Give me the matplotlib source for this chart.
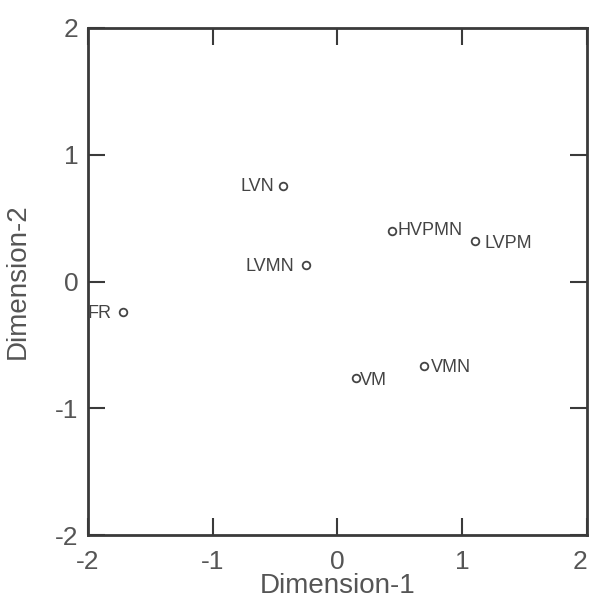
import matplotlib
matplotlib.use("Agg")
import matplotlib.pyplot as plt

plt.rcParams['font.family'] = ['Liberation Sans', 'DejaVu Sans']

# MDS configuration
labels = ["LVN", "HVPMN", "LVPM", "LVMN", "VM", "VMN", "FR"]
dim1 = [-0.44, 0.44, 1.10, -0.25, 0.15, 0.69, -1.72]
dim2 = [0.75, 0.40, 0.32, 0.13, -0.76, -0.67, -0.24]

ticks = [-2, -1, 0, 1, 2]

# label placement next to each marker (offset in points, alignment)
label_pos = {
    "LVN":   ((-6, 0), "right"),
    "HVPMN": ((4, 0), "left"),
    "LVPM":  ((7, -2), "left"),
    "LVMN":  ((-9, -1), "right"),
    "VM":    ((3, -2), "left"),
    "VMN":   ((5, -1), "left"),
    "FR":    ((-8, -1), "right"),
}

ink = "#3a3a3a"
txt = "#555555"

fig = plt.figure(figsize=(5.9, 6.08), dpi=100)
ax = fig.add_axes([0.149, 0.12, 0.846, 0.834])

ax.plot(dim1, dim2, linestyle="none", marker="o", markersize=5.5,
        markerfacecolor="white", markeredgecolor="#444444", markeredgewidth=1.3)

for name, x, y in zip(labels, dim1, dim2):
    off, ha = label_pos[name]
    ax.annotate(name, (x, y), xytext=off, textcoords="offset points",
                ha=ha, va="center", fontsize=13, color="#444444")

ax.set_xlim(-2, 2)
ax.set_ylim(-2, 2)
ax.set_xticks(ticks)
ax.set_yticks(ticks)
ax.set_xticklabels([str(t) for t in ticks])
ax.set_yticklabels([str(t) for t in ticks])

ax.tick_params(direction="in", length=12, width=1.5, color=ink,
               top=True, right=True, labelsize=19, labelcolor=txt)
ax.tick_params(axis="x", pad=11)
ax.tick_params(axis="y", pad=7)

# last x label sits at the figure edge, keep it inside
ax.get_xticklabels()[-1].set_horizontalalignment("right")

for s in ax.spines.values():
    s.set_linewidth(2.0)
    s.set_color(ink)

ax.set_xlabel("Dimension-1", fontsize=20, color=txt, labelpad=-1)
ax.set_ylabel("Dimension-2", fontsize=20, color=txt, labelpad=17)

fig.savefig("out.png", dpi=100, facecolor="white")
